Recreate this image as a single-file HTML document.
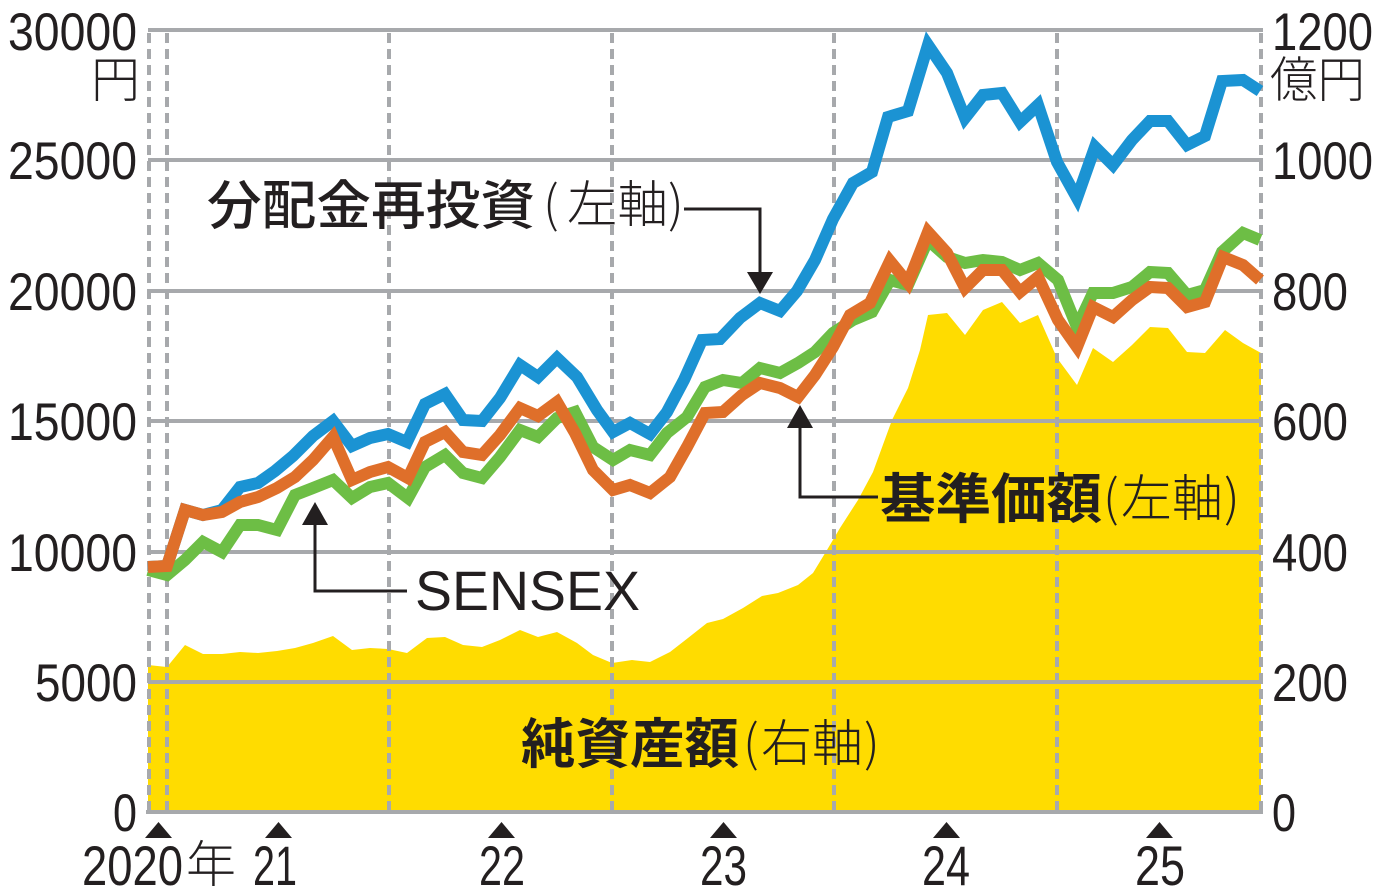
<!DOCTYPE html>
<html>
<head>
<meta charset="utf-8">
<style>
html,body{margin:0;padding:0;background:#fff;}
svg{display:block;}
.num{font-family:"Liberation Sans",sans-serif;fill:#231f20;}
.jp{font-family:"Liberation Sans","Noto Sans CJK JP",sans-serif;fill:#231f20;}
.cj{font-family:"Noto Sans CJK JP",sans-serif;fill:#231f20;}
</style>
</head>
<body>
<svg width="1381" height="891" viewBox="0 0 1381 891" xmlns="http://www.w3.org/2000/svg">
<rect x="0" y="0" width="1381" height="891" fill="#fff"/>

<!-- net assets area -->
<polygon fill="#ffdc00" points="148,812 148,665 167,667 185,645 203,654 222,654 240,652 258,653 277,651 295,648 313,643 333,636 352,650 370,648 388,649 407,653 427,638 445,637 463,645 482,647 500,640 520,630 538,637 557,632 577,643 593,655 612,663 632,660 650,662 670,652 688,638 707,623 723,619 743,608 762,596 778,593 798,585 813,573 827,550 840,528 858,500 873,472 892,420 908,388 920,350 928,315 947,313 965,335 983,310 1002,302 1020,323 1038,315 1057,358 1077,385 1093,348 1113,362 1132,345 1150,327 1168,328 1187,352 1205,353 1225,330 1243,343 1261,353 1261,812"/>

<!-- horizontal gridlines -->
<g stroke="#a7a9ac" stroke-width="4">
<line x1="148" y1="30" x2="1263" y2="30"/>
<line x1="148" y1="160" x2="1263" y2="160"/>
<line x1="148" y1="291" x2="1263" y2="291"/>
<line x1="148" y1="421" x2="1263" y2="421"/>
<line x1="148" y1="552" x2="1263" y2="552"/>
<line x1="148" y1="682" x2="1263" y2="682"/>
<line x1="146" y1="812" x2="1263" y2="812"/>
</g>
<!-- vertical dashed lines -->
<g stroke="#a7a9ac" stroke-width="4" stroke-dasharray="10,6">
<line x1="149" y1="33" x2="149" y2="812"/>
<line x1="167" y1="33" x2="167" y2="812"/>
<line x1="389" y1="33" x2="389" y2="812"/>
<line x1="612" y1="33" x2="612" y2="812"/>
<line x1="834" y1="33" x2="834" y2="812"/>
<line x1="1057" y1="33" x2="1057" y2="812"/>
<line x1="1261" y1="33" x2="1261" y2="812"/>
</g>

<!-- blue: dividend reinvested -->
<polyline fill="none" stroke="#1b93d3" stroke-width="12" stroke-linejoin="miter" stroke-miterlimit="2.5" points="148,567 167,566 185,510 203,515 222,510 240,487 258,483 275,471 293,456 313,436 333,421 352,446 370,438 388,434 407,442 425,404 445,394 463,420 482,421 500,398 520,365 538,377 557,358 577,377 597,410 613,432 630,423 650,434 667,412 684,380 702,340 720,339 740,318 760,303 780,311 797,291 815,260 833,219 853,183 872,172 888,117 908,111 928,45 947,73 965,118 983,95 1002,93 1020,122 1038,105 1057,162 1077,198 1095,147 1113,165 1132,140 1150,121 1168,121 1187,145 1205,136 1222,81 1243,80 1260,91"/>

<!-- green: SENSEX -->
<polyline fill="none" stroke="#6dbe45" stroke-width="12" stroke-linejoin="miter" stroke-miterlimit="2.5" points="148,570 167,575 185,560 203,542 222,552 240,525 258,525 277,530 295,495 313,488 333,480 352,498 370,487 388,483 408,498 425,467 445,455 463,473 482,478 500,457 520,430 538,437 557,418 575,412 593,447 613,460 630,450 650,455 667,433 687,417 705,387 723,380 742,383 760,368 780,373 798,363 815,352 833,333 853,320 872,312 890,280 908,285 928,240 947,257 965,263 983,260 1002,262 1020,270 1038,263 1058,280 1077,327 1093,293 1113,293 1132,287 1150,272 1168,273 1187,295 1205,290 1222,252 1243,233 1260,240"/>

<!-- orange: NAV -->
<polyline fill="none" stroke="#df6f2a" stroke-width="12" stroke-linejoin="miter" stroke-miterlimit="2.5" points="148,567 167,566 185,510 203,515 222,512 240,502 258,497 277,488 295,477 313,460 333,437 352,480 370,472 388,467 408,478 425,442 445,432 463,452 482,455 500,435 520,408 538,416 557,402 575,433 593,470 613,490 630,485 650,493 670,477 687,447 705,413 723,412 742,395 760,383 780,388 798,397 815,375 833,347 850,315 870,303 890,261 908,283 928,232 947,253 965,288 983,270 1002,270 1020,292 1038,277 1058,320 1077,347 1093,307 1113,317 1132,300 1150,287 1168,288 1187,307 1205,302 1223,257 1243,265 1260,280"/>

<!-- left axis labels -->
<g class="num" font-size="53" text-anchor="end">
<text x="137" y="50" textLength="129" lengthAdjust="spacingAndGlyphs">30000</text>
<text x="137" y="179" textLength="129" lengthAdjust="spacingAndGlyphs">25000</text>
<text x="137" y="310" textLength="129" lengthAdjust="spacingAndGlyphs">20000</text>
<text x="137" y="440" textLength="129" lengthAdjust="spacingAndGlyphs">15000</text>
<text x="137" y="571" textLength="129" lengthAdjust="spacingAndGlyphs">10000</text>
<text x="137" y="701" textLength="102" lengthAdjust="spacingAndGlyphs">5000</text>
<text x="137" y="831" textLength="24" lengthAdjust="spacingAndGlyphs">0</text>
</g>
<text class="cj" x="91" y="97" font-size="49" font-weight="300">円</text>

<!-- right axis labels -->
<g class="num" font-size="53">
<text x="1272" y="50" textLength="101" lengthAdjust="spacingAndGlyphs">1200</text>
<text x="1272" y="179" textLength="101" lengthAdjust="spacingAndGlyphs">1000</text>
<text x="1272" y="310" textLength="76" lengthAdjust="spacingAndGlyphs">800</text>
<text x="1272" y="440" textLength="76" lengthAdjust="spacingAndGlyphs">600</text>
<text x="1272" y="571" textLength="76" lengthAdjust="spacingAndGlyphs">400</text>
<text x="1272" y="701" textLength="76" lengthAdjust="spacingAndGlyphs">200</text>
<text x="1272" y="831" textLength="24" lengthAdjust="spacingAndGlyphs">0</text>
</g>
<text class="cj" x="1270" y="97" font-size="49" font-weight="300" textLength="95" lengthAdjust="spacingAndGlyphs">億円</text>

<!-- bottom ticks -->
<g fill="#231f20">
<polygon points="145,838 172,838 158.5,822"/>
<polygon points="265,838 292,838 278.5,822"/>
<polygon points="488,838 515,838 501.5,822"/>
<polygon points="710,838 737,838 723.5,822"/>
<polygon points="933,838 960,838 946.5,822"/>
<polygon points="1146,838 1173,838 1159.5,822"/>
</g>
<g class="num" font-size="56">
<text x="82" y="885" textLength="101" lengthAdjust="spacingAndGlyphs">2020</text>
<text x="253" y="885" textLength="44" lengthAdjust="spacingAndGlyphs">21</text>
<text x="479" y="885" textLength="46" lengthAdjust="spacingAndGlyphs">22</text>
<text x="700" y="885" textLength="47" lengthAdjust="spacingAndGlyphs">23</text>
<text x="922" y="885" textLength="48" lengthAdjust="spacingAndGlyphs">24</text>
<text x="1135" y="885" textLength="50" lengthAdjust="spacingAndGlyphs">25</text>
</g>
<text class="cj" x="186" y="882" font-size="50" font-weight="300">年</text>

<!-- label: dividend reinvested -->
<text class="cj" x="207" y="224" font-size="53" font-weight="500" textLength="328" lengthAdjust="spacingAndGlyphs">分配金再投資</text>
<text class="cj" x="543" y="222" font-size="50" font-weight="300">(</text>
<text class="cj" x="567" y="222" font-size="50" font-weight="300" textLength="101" lengthAdjust="spacingAndGlyphs">左軸</text>
<text class="cj" x="668" y="222" font-size="50" font-weight="300">)</text>
<polyline fill="none" stroke="#231f20" stroke-width="3" points="684,209 760,209 760,275"/>
<polygon fill="#231f20" points="747,272 773,272 760,294"/>

<!-- label: NAV -->
<text class="cj" x="880" y="518" font-size="54" font-weight="700" textLength="222" lengthAdjust="spacingAndGlyphs">基準価額</text>
<text class="cj" x="1103" y="516" font-size="50" font-weight="300">(</text>
<text class="cj" x="1121" y="516" font-size="50" font-weight="300" textLength="102" lengthAdjust="spacingAndGlyphs">左軸</text>
<text class="cj" x="1224" y="516" font-size="50" font-weight="300">)</text>
<polyline fill="none" stroke="#231f20" stroke-width="3" points="800,426 800,497 878,497"/>
<polygon fill="#231f20" points="787,428 813,428 800,405"/>

<!-- label: SENSEX -->
<text class="num" x="415" y="610" font-size="56" textLength="225" lengthAdjust="spacingAndGlyphs">SENSEX</text>
<polyline fill="none" stroke="#231f20" stroke-width="3" points="315,523 315,591 407,591"/>
<polygon fill="#231f20" points="302,525 328,525 315,502"/>

<!-- label: net assets -->
<text class="cj" x="521" y="763" font-size="54" font-weight="700" textLength="218" lengthAdjust="spacingAndGlyphs">純資産額</text>
<text class="cj" x="743" y="761" font-size="50" font-weight="300">(</text>
<text class="cj" x="761" y="761" font-size="50" font-weight="300" textLength="102" lengthAdjust="spacingAndGlyphs">右軸</text>
<text class="cj" x="864" y="761" font-size="50" font-weight="300">)</text>
</svg>
</body>
</html>
